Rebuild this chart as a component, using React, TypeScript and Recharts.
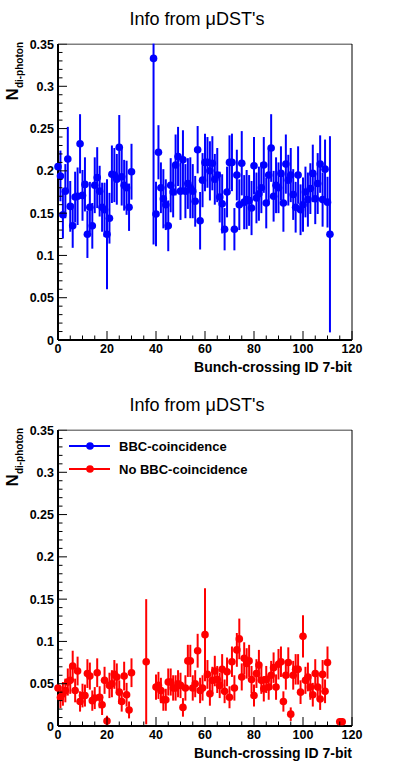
import { ErrorBar, ReferenceArea, Scatter, ScatterChart, XAxis, YAxis } from "recharts";

const FONT = "'Liberation Sans', Arial, Helvetica, sans-serif";
const BLUE = "#0000ff";
const RED = "#ff0000";

const TITLE = "Info from \u03bcDST's";
const X_TITLE = "Bunch-crossing ID 7-bit";
const LEGEND = [
  { name: "BBC-coincidence", color: BLUE },
  { name: "No BBC-coincidence", color: RED },
];

const X_TICKS = [0, 5, 10, 15, 20, 25, 30, 35, 40, 45, 50, 55, 60, 65, 70, 75, 80, 85, 90, 95, 100, 105, 110, 115, 120];
const Y_TICKS = [
  0, 0.01, 0.02, 0.03, 0.04, 0.05, 0.06, 0.07, 0.08, 0.09, 0.1, 0.11, 0.12, 0.13, 0.14, 0.15, 0.16, 0.17,
  0.18, 0.19, 0.2, 0.21, 0.22, 0.23, 0.24, 0.25, 0.26, 0.27, 0.28, 0.29, 0.3, 0.31, 0.32, 0.33, 0.34, 0.35,
];

// BBC-coincidence (top panel)
const blueBins = [
  0, 1, 2, 3, 4, 5, 6, 7, 8, 9, 10, 11, 12, 13, 14, 15, 16, 17, 18, 19, 20, 21, 22, 23, 24, 25, 26, 27, 28, 29, 30,
  39, 40, 41, 42, 43, 44, 45, 46, 47, 48, 49, 50, 51, 52, 53, 54, 55, 56, 57, 58, 59, 60, 61, 62, 63, 64, 65, 66, 67,
  68, 69, 70, 71, 72, 73, 74, 75, 76, 77, 78, 79, 80, 81, 82, 83, 84, 85, 86, 87, 88, 89, 90, 91, 92, 93, 94, 95, 96,
  97, 98, 99, 100, 101, 102, 103, 104, 105, 106, 107, 108, 109, 110, 111,
];
const blueValues = [
  0.205, 0.194, 0.148, 0.176, 0.214, 0.158, 0.135, 0.169, 0.17, 0.232, 0.171, 0.184, 0.125, 0.157, 0.135, 0.183,
  0.192, 0.176, 0.157, 0.154, 0.125, 0.144, 0.196, 0.195, 0.19, 0.228, 0.193, 0.183, 0.18, 0.157, 0.199,
  0.333, 0.149, 0.222, 0.18, 0.167, 0.16, 0.135, 0.183, 0.175, 0.207, 0.217, 0.176, 0.213, 0.176, 0.185, 0.18,
  0.176, 0.164, 0.225, 0.141, 0.189, 0.21, 0.21, 0.2, 0.209, 0.19, 0.195, 0.169, 0.161, 0.131, 0.175, 0.21, 0.21,
  0.131, 0.195, 0.16, 0.209, 0.163, 0.166, 0.165, 0.156, 0.206, 0.168, 0.173, 0.18, 0.207, 0.162, 0.195, 0.227,
  0.17, 0.183, 0.18, 0.197, 0.162, 0.208, 0.189, 0.195, 0.172, 0.157, 0.195, 0.154, 0.16, 0.175, 0.166, 0.179,
  0.197, 0.167, 0.185, 0.208, 0.166, 0.202, 0.163, 0.125,
];
const blueErrors = [
  0.035, 0.03, 0.028, 0.032, 0.038, 0.03, 0.026, 0.03, 0.034, 0.035, 0.03, 0.032, 0.028, 0.03, 0.027, 0.033,
  0.036, 0.03, 0.029, 0.032, 0.065, 0.03, 0.034, 0.032, 0.03, 0.038, 0.034, 0.03, 0.032, 0.028, 0.033,
  0.22, 0.038, 0.032, 0.03, 0.035, 0.03, 0.03, 0.032, 0.03, 0.036, 0.035, 0.034, 0.035, 0.032, 0.03, 0.036,
  0.032, 0.03, 0.028, 0.034, 0.032, 0.034, 0.03, 0.035, 0.032, 0.03, 0.032, 0.03, 0.035, 0.025, 0.03, 0.032, 0.034,
  0.025, 0.03, 0.03, 0.038, 0.032, 0.035, 0.03, 0.032, 0.034, 0.03, 0.032, 0.03, 0.033, 0.03, 0.032, 0.04,
  0.03, 0.033, 0.03, 0.032, 0.034, 0.035, 0.03, 0.032, 0.03, 0.03, 0.034, 0.03, 0.032, 0.03, 0.032, 0.03,
  0.034, 0.03, 0.036, 0.034, 0.032, 0.035, 0.03, 0.116,
];

// No BBC-coincidence (bottom panel)
const redBins = [
  0, 1, 2, 3, 4, 5, 6, 7, 8, 9, 10, 11, 12, 13, 14, 15, 16, 17, 18, 19, 20, 21, 22, 23, 24, 25, 26, 27, 28, 29, 30,
  36, 40, 41, 42, 43, 44, 45, 46, 47, 48, 49, 50, 51, 52, 53, 54, 55, 56, 57, 58, 59, 60, 61, 62, 63, 64, 65, 66,
  67, 68, 69, 70, 71, 72, 73, 74, 75, 76, 77, 78, 79, 80, 81, 82, 83, 84, 85, 86, 87, 88, 89, 90, 91, 92, 93, 94,
  95, 96, 97, 98, 99, 100, 101, 102, 103, 104, 105, 106, 107, 108, 109, 110, 115, 116,
];
const redValues = [
  0.045, 0.034, 0.038, 0.042, 0.052, 0.054, 0.071, 0.042, 0.065, 0.029, 0.036, 0.036, 0.062, 0.059, 0.03, 0.033,
  0.063, 0.034, 0.025, 0.054, 0.006, 0.048, 0.05, 0.061, 0.058, 0.04, 0.029, 0.059, 0.037, 0.019, 0.063,
  0.076, 0.046, 0.048, 0.042, 0.031, 0.031, 0.052, 0.052, 0.045, 0.045, 0.05, 0.048, 0.022, 0.045, 0.077, 0.077,
  0.045, 0.05, 0.089, 0.042, 0.045, 0.108, 0.061, 0.038, 0.054, 0.065, 0.055, 0.048, 0.067, 0.041, 0.064, 0.034,
  0.076, 0.045, 0.09, 0.103, 0.058, 0.08, 0.074, 0.077, 0.055, 0.036, 0.062, 0.072, 0.054, 0.044, 0.055, 0.046,
  0.06, 0.069, 0.046, 0.073, 0.076, 0.029, 0.06, 0.075, 0.014, 0.06, 0.067, 0.067, 0.04, 0.106, 0.054, 0.058,
  0.046, 0.037, 0.062, 0.046, 0.032, 0.061, 0.041, 0.075, 0.005, 0.005,
];
const redErrors = [
  0.015, 0.013, 0.014, 0.014, 0.016, 0.016, 0.018, 0.014, 0.017, 0.012, 0.014, 0.013, 0.017, 0.016, 0.012, 0.013,
  0.017, 0.013, 0.012, 0.016, 0.006, 0.015, 0.016, 0.017, 0.016, 0.014, 0.012, 0.017, 0.014, 0.01, 0.017,
  0.074, 0.015, 0.016, 0.015, 0.013, 0.013, 0.016, 0.016, 0.015, 0.015, 0.016, 0.015, 0.011, 0.015, 0.019, 0.019,
  0.015, 0.016, 0.02, 0.015, 0.015, 0.055, 0.017, 0.014, 0.016, 0.018, 0.016, 0.015, 0.018, 0.014, 0.017, 0.013,
  0.018, 0.015, 0.02, 0.024, 0.016, 0.019, 0.018, 0.019, 0.016, 0.013, 0.017, 0.018, 0.016, 0.015, 0.016, 0.015,
  0.017, 0.018, 0.015, 0.018, 0.018, 0.012, 0.017, 0.018, 0.008, 0.017, 0.018, 0.018, 0.014, 0.025, 0.016, 0.017,
  0.015, 0.014, 0.017, 0.015, 0.013, 0.017, 0.014, 0.019, 0.004, 0.004,
];

const toPoints = (bins: number[], values: number[], errors: number[]) =>
  bins.map((x, i) => ({ x, y: values[i], err: errors[i] }));

const blueData = toPoints(blueBins, blueValues, blueErrors);
const redData = toPoints(redBins, redValues, redErrors);

const W = 396;
const H = 386;
const LEFT = 58;
const RIGHT = 352;
const TOP = 44;
const BOTTOM = 340;

function XTick(props: any) {
  const { x, y, payload } = props;
  const v = payload.value;
  const major = v % 20 === 0;
  return (
    <g>
      <line x1={x} x2={x} y1={y} y2={y - (major ? 9 : 4.5)} stroke="#000" strokeWidth={1} />
      {major && (
        <text x={x} y={y + 13} textAnchor="middle" fontFamily={FONT} fontWeight="bold" fontSize={12.5} fill="#000">
          {v}
        </text>
      )}
    </g>
  );
}

function YTick(props: any) {
  const { x, y, payload } = props;
  const v = payload.value;
  const major = Math.round(v * 100) % 5 === 0;
  return (
    <g>
      <line x1={x} x2={x + (major ? 9 : 4.5)} y1={y} y2={y} stroke="#000" strokeWidth={1} />
      {major && (
        <text x={x - 4} y={y + 4.5} textAnchor="end" fontFamily={FONT} fontWeight="bold" fontSize={12.5} fill="#000">
          {String(v)}
        </text>
      )}
    </g>
  );
}

const Dot = (color: string) => (props: any) => <circle cx={props.cx} cy={props.cy} r={3.8} fill={color} />;

function Panel({ data, color, legend }: { data: any[]; color: string; legend?: boolean }) {
  return (
    <div style={{ position: "relative", width: W, height: H }}>
      <ScatterChart width={W} height={H} margin={{ top: TOP, right: W - RIGHT, bottom: 0, left: 0 }}>
        <ReferenceArea x1={0} x2={120} y1={0} y2={0.35} fill="none" stroke="#000" strokeWidth={1} />
        <XAxis
          type="number"
          dataKey="x"
          domain={[0, 120]}
          ticks={X_TICKS}
          interval={0}
          height={H - BOTTOM}
          tickSize={0}
          tickMargin={0}
          tick={XTick}
          tickLine={false}
          axisLine={{ stroke: "#000", strokeWidth: 2 }}
        />
        <YAxis
          type="number"
          dataKey="y"
          domain={[0, 0.35]}
          ticks={Y_TICKS}
          interval={0}
          width={LEFT}
          allowDataOverflow
          tickSize={0}
          tickMargin={0}
          tick={YTick}
          tickLine={false}
          axisLine={{ stroke: "#000", strokeWidth: 2 }}
        />
        <Scatter data={data} fill={color} shape={Dot(color)} isAnimationActive={false}>
          <ErrorBar dataKey="err" direction="y" width={0} stroke={color} strokeWidth={2} />
        </Scatter>
      </ScatterChart>
      <svg width={W} height={H} style={{ position: "absolute", left: 0, top: 0, pointerEvents: "none" }}>
        {/* clip error bars at the frame top, like the original */}
        <rect x={LEFT} y={0} width={RIGHT - LEFT + 1} height={TOP - 0.5} fill="#fff" />
        <text x={197} y={25} textAnchor="middle" fontFamily={FONT} fontSize={18} fill="#000">
          {TITLE}
        </text>
        <text
          transform={`translate(18,${TOP - 2}) rotate(-90)`}
          textAnchor="end"
          fontFamily={FONT}
          fontWeight="bold"
          fontSize={17}
          fill="#000"
        >
          N
          <tspan dy={5} fontSize={10}>
            di-photon
          </tspan>
        </text>
        <text x={RIGHT} y={372} textAnchor="end" fontFamily={FONT} fontWeight="bold" fontSize={14} fill="#000">
          {X_TITLE}
        </text>
        {legend &&
          LEGEND.map((item, i) => (
            <g key={item.name}>
              <line x1={69} x2={110} y1={60 + i * 23} y2={60 + i * 23} stroke={item.color} strokeWidth={2} />
              <circle cx={90} cy={60 + i * 23} r={3.8} fill={item.color} />
              <text x={119} y={64.7 + i * 23} fontFamily={FONT} fontWeight="bold" fontSize={13} fill="#000">
                {item.name}
              </text>
            </g>
          ))}
      </svg>
    </div>
  );
}

export default function App() {
  return (
    <div style={{ position: "absolute", left: 0, top: 0, width: W, height: 772, background: "#fff" }}>
      <Panel data={blueData} color={BLUE} />
      <Panel data={redData} color={RED} legend />
    </div>
  );
}
